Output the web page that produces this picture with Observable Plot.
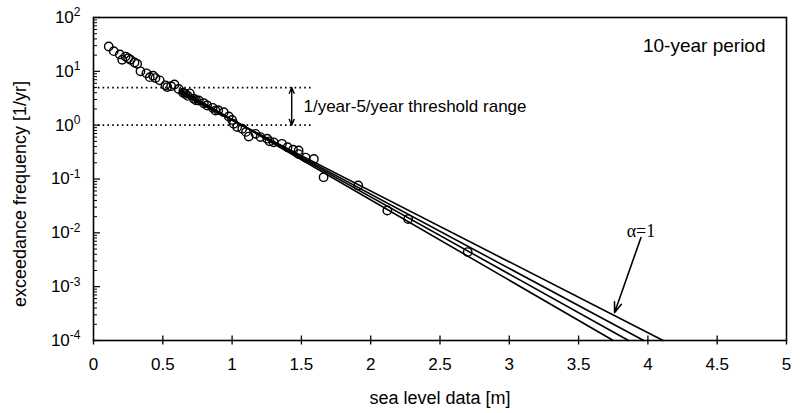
<!DOCTYPE html>
<html><head><meta charset="utf-8">
<script src="https://cdn.jsdelivr.net/npm/d3@7"></script>
<script src="https://cdn.jsdelivr.net/npm/@observablehq/plot@0.6"></script>
<style>body{margin:0;background:#fff}</style>
</head><body><div id="chart"></div>
<script>
// observed exceedances (sea level [m], frequency [1/yr])
const seaLevel = [0.11,0.146,0.19,0.207,0.231,0.25,0.267,0.296,0.315,0.339,0.382,0.406,0.43,0.447,0.478,0.519,0.532,0.56,0.584,0.615,0.647,0.664,0.68,0.695,0.724,0.74,0.76,0.796,0.82,0.86,0.88,0.9,0.94,0.976,1.0,1.012,1.037,1.073,1.1,1.12,1.169,1.205,1.253,1.27,1.30,1.36,1.40,1.44,1.48,1.48,1.53,1.59,1.66,1.91,2.12,2.27,2.70];
const frequency = [28.9,23.7,20.6,16.4,18.8,17.5,16.4,14.6,13.8,10.0,9.2,7.8,8.3,7.5,6.8,5.5,5.1,5.3,5.7,4.7,4.0,3.8,3.5,3.9,3.1,2.9,2.87,2.56,2.32,2.1,1.87,1.9,1.74,1.45,1.25,1.06,0.92,0.86,0.75,0.615,0.69,0.60,0.56,0.5,0.48,0.45,0.39,0.35,0.34,0.29,0.25,0.235,0.108,0.076,0.026,0.018,0.0044];
// fitted lines (start and end points)
const fitNames = ["alpha=1","fit 2","fit 3","fit 4"];
const fitStartX = [0.62,0.62,0.62,0.62];
const fitStartF = [3.91,4.18,4.42,4.70];
const fitEndX = [4.11,3.97,3.86,3.75];
const fitEndF = [1e-4,1e-4,1e-4,1e-4];
// threshold range
const thresholds = [1,5];
const thresholdEndX = 1.59;
const thresholdArrowX = 1.43;
const thresholdMid = 2.236;
const thresholdLabelX = 1.515;
const thresholdLabel = "1/year-5/year threshold range";
// alpha annotation
const alphaLabel = "α=1";
const alphaLabelPos = [3.95, 0.0108];
const alphaArrowFrom = [3.95, 8.2e-3];
const alphaArrowTo = [3.76, 3.3e-4];
const periodLabel = "10-year period";
// axes
const xTicks = [0,0.5,1,1.5,2,2.5,3,3.5,4,4.5,5];
const yMajor = [1e-4,1e-3,1e-2,1e-1,1,10,100];
const yExp = ["-4","-3","-2","-1","0","1","2"];
const yMinor = [];
for (const d of yMajor.slice(0,-1)) for (const m of [2,3,4,5,6,7,8,9]) yMinor.push(d*m);
const xTitle = "sea level data [m]";
const yTitle = "exceedance frequency [1/yr]";

const W=800,H=413,mL=93,mR=14,mT=17,mB=73;
const plotW=W-mL-mR, plotH=H-mT-mB;

const points = seaLevel.map((x,i)=>({x, f: frequency[i]}));
const fitSegs = [];
fitNames.forEach((n,i)=>{ fitSegs.push({n,x:fitStartX[i],f:fitStartF[i]}); fitSegs.push({n,x:fitEndX[i],f:fitEndF[i]}); });

const chart = Plot.plot({
  width: W, height: H,
  marginLeft: mL, marginRight: mR, marginTop: mT, marginBottom: mB,
  style: {fontFamily: "'Liberation Sans', Arial, Helvetica, sans-serif", fontSize: "17px", color: "black", background: "white"},
  x: {domain: [0,5]},
  y: {type: "log", domain: [1e-4, 1e2]},
  marks: [
    Plot.line(fitSegs, {x: "x", y: "f", z: "n", stroke: "black", strokeWidth: 1.6}),
    Plot.dot(points, {x: "x", y: "f", r: 4.2, stroke: "black", strokeWidth: 1.4, fill: "none"}),
    Plot.ruleY(thresholds, {y: d=>d, x1: 0, x2: thresholdEndX, stroke: "black", strokeWidth: 1.7, strokeDasharray: "1.6,3.2"}),
    Plot.arrow(thresholds, {x1: thresholdArrowX, y1: thresholdMid, x2: thresholdArrowX, y2: d=>d, stroke: "black", strokeWidth: 1.4, headLength: 7, headAngle: 45}),
    Plot.text([thresholdLabel], {x: thresholdLabelX, y: thresholdMid, text: d=>d, textAnchor: "start", lineAnchor: "middle", fontSize: 17, fill: "black"}),
    Plot.text([periodLabel], {frameAnchor: "top-right", dx: -21, dy: 28, text: d=>d, textAnchor: "end", lineAnchor: "middle", fontSize: 19, fill: "black"}),
    Plot.text([alphaLabel], {x: alphaLabelPos[0], y: alphaLabelPos[1], text: d=>d, textAnchor: "middle", lineAnchor: "middle", fontSize: 18, fontFamily: "'Liberation Serif', 'Times New Roman', serif", fill: "black"}),
    Plot.arrow([0], {x1: alphaArrowFrom[0], y1: alphaArrowFrom[1], x2: alphaArrowTo[0], y2: alphaArrowTo[1], stroke: "black", strokeWidth: 1.6, headLength: 10, headAngle: 40}),
    Plot.tickY(yMajor, {y: d=>d, insetRight: plotW-7, stroke: "black", strokeWidth: 1.2}),
    Plot.tickY(yMinor, {y: d=>d, insetRight: plotW-4, stroke: "black", strokeWidth: 1}),
    Plot.tickX(xTicks.slice(1,-1), {x: d=>d, insetTop: plotH-4.5, stroke: "black", strokeWidth: 1.3}),
    Plot.axisX({ticks: xTicks, tickSize: 4.5, tickPadding: 13, strokeWidth: 1.3, tickFormat: d=>String(d), label: null}),
    Plot.axisY({ticks: yMajor, tickSize: 0, tickPadding: 13, tickFormat: (d,i)=>"10^"+yExp[yMajor.indexOf(d)], label: null}),
    Plot.text([xTitle], {frameAnchor: "bottom", dy: 58, text: d=>d, textAnchor: "middle", lineAnchor: "middle", fontSize: 18, fill: "black"}),
    Plot.text([yTitle], {frameAnchor: "left", dx: -73, dy: 15, rotate: -90, text: d=>d, textAnchor: "middle", lineAnchor: "middle", fontSize: 18, fill: "black"}),
    Plot.frame({stroke: "black", strokeWidth: 1.6})
  ]
});
document.getElementById("chart").appendChild(chart);
d3.select(chart).selectAll('g[aria-label="y-axis tick label"] text').each(function(){
  const m = this.textContent.match(/^10\^(.*)$/);
  if (m) {
    this.textContent = "10";
    d3.select(this).append("tspan").attr("dy","-0.55em").attr("font-size","12px").text(m[1]);
  }
});
</script>
</body></html>
